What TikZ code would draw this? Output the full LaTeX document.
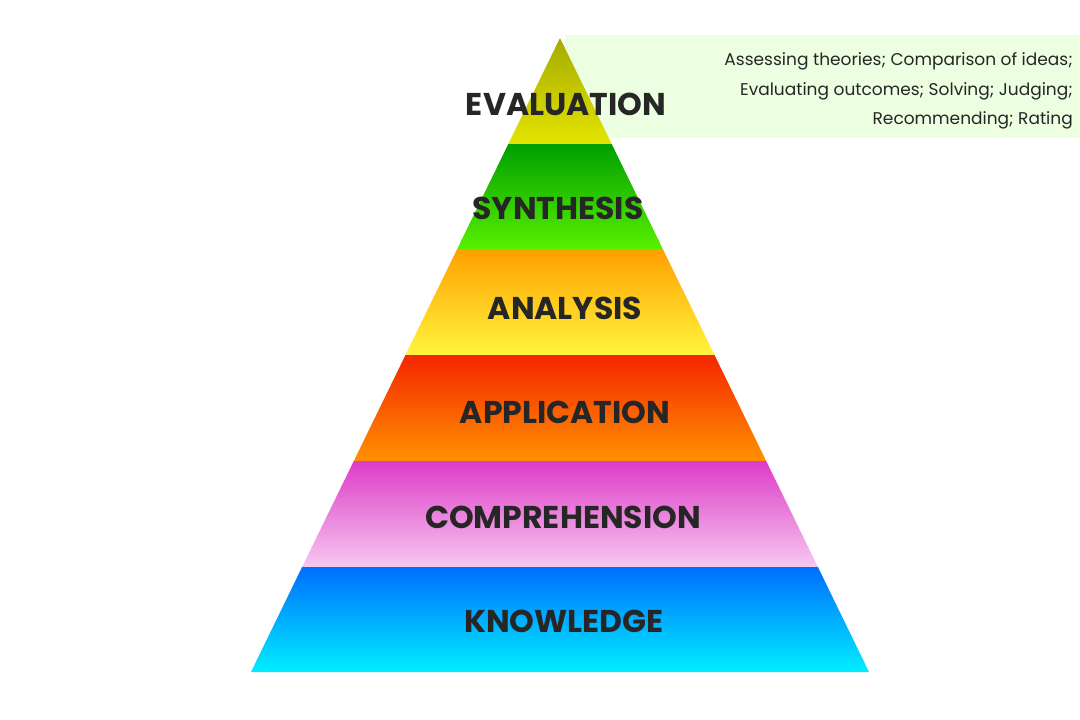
\documentclass[tikz,border=0pt]{standalone}
\usepackage{fontspec}
\setmainfont{Poppins}
\begin{document}
\begin{tikzpicture}[x=1pt,y=-1pt,
  lvl/.style={font=\fontsize{31.5}{33}\selectfont\bfseries, text=black!85, inner sep=0pt},
  desc/.style={font=\fontsize{17}{29.5}\selectfont, text=black!85, align=right, inner sep=0pt}]
\useasboundingbox (0,0) rectangle (1080,720);
\fill[white] (0,0) rectangle (1080,720);
% note panel beside the apex
\fill[green!50!lime!12] (565,35) rectangle (1080,138);
\node[desc, anchor=east] (note) at (1073,91)
  {Assessing theories; Comparison of ideas;\\Evaluating outcomes; Solving; Judging;\\Recommending; Rating};
% pyramid layers, apex to base
\coordinate (apex) at (560,38);
\shade[top color={rgb,255:red,165;green,172;blue,0}, bottom color={rgb,255:red,228;green,228;blue,0}]
  (apex) -- (611.7,144) -- (508.3,144) -- cycle;
\shade[top color={rgb,255:red,0;green,158;blue,0}, bottom color={rgb,255:red,88;green,240;blue,0}]
  (508.3,144) -- (611.7,144) -- (662.8,249) -- (457.2,249) -- cycle;
\shade[top color={rgb,255:red,255;green,160;blue,0}, bottom color={rgb,255:red,255;green,245;blue,60}]
  (457.2,249) -- (662.8,249) -- (714.5,355) -- (405.5,355) -- cycle;
\shade[top color={rgb,255:red,245;green,38;blue,0}, bottom color={rgb,255:red,255;green,145;blue,0}]
  (405.5,355) -- (714.5,355) -- (766.2,461) -- (353.8,461) -- cycle;
\shade[top color={rgb,255:red,222;green,60;blue,200}, bottom color={rgb,255:red,246;green,200;blue,240}]
  (353.8,461) -- (766.2,461) -- (817.9,567) -- (302.1,567) -- cycle;
\shade[top color={rgb,255:red,0;green,110;blue,255}, bottom color={rgb,255:red,0;green,238;blue,255}]
  (302.1,567) -- (817.9,567) -- (869,672) -- (251,672) -- cycle;
% level names
\node[lvl] (evaluation) at (566,104) {EVALUATION};
\node[lvl] (synthesis) at (558,208) {SYNTHESIS};
\node[lvl] (analysis) at (565,308) {ANALYSIS};
\node[lvl] (application) at (565,412) {APPLICATION};
\node[lvl] (comprehension) at (563,517) {COMPREHENSION};
\node[lvl] (knowledge) at (564,621) {KNOWLEDGE};
\end{tikzpicture}
\end{document}
